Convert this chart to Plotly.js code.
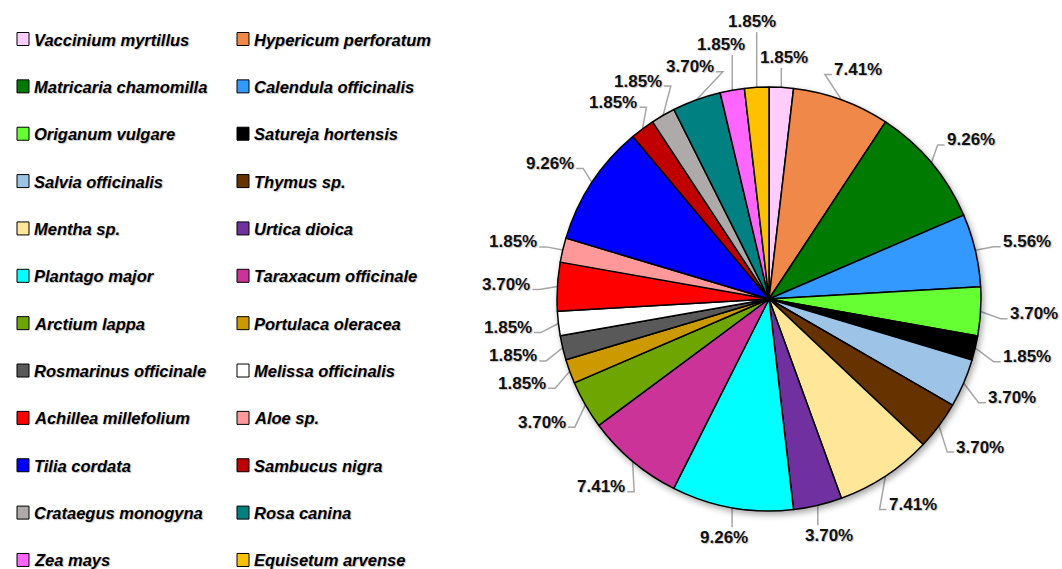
<!DOCTYPE html>
<html>
<head>
<meta charset="utf-8">
<script src="https://cdn.plot.ly/plotly-3.0.1.min.js"></script>
<style>
  html, body { margin: 0; padding: 0; background: #ffffff; }
  #chart { width: 1062px; height: 569px; }
  #chart .pielayer { filter: drop-shadow(2px 3px 3px rgba(0,0,0,0.35)); }
</style>
</head>
<body>
<div id="chart"></div>
<script>
// ---- data ----
const species = [
  "Vaccinium myrtillus", "Hypericum perforatum",
  "Matricaria chamomilla", "Calendula officinalis",
  "Origanum vulgare", "Satureja hortensis",
  "Salvia officinalis", "Thymus sp.",
  "Mentha sp.", "Urtica dioica",
  "Plantago major", "Taraxacum officinale",
  "Arctium lappa", "Portulaca oleracea",
  "Rosmarinus officinale", "Melissa officinalis",
  "Achillea millefolium", "Aloe sp.",
  "Tilia cordata", "Sambucus nigra",
  "Crataegus monogyna", "Rosa canina",
  "Zea mays", "Equisetum arvense"
];
const percents = [
  1.85, 7.41,
  9.26, 5.56,
  3.70, 1.85,
  3.70, 3.70,
  7.41, 3.70,
  9.26, 7.41,
  3.70, 1.85,
  1.85, 1.85,
  3.70, 1.85,
  9.26, 1.85,
  1.85, 3.70,
  1.85, 1.85
];
const colors = [
  "#FFCCFF", "#F0884A",
  "#007A00", "#3399FF",
  "#66FF33", "#000000",
  "#9DC3E6", "#663300",
  "#FFE699", "#7030A0",
  "#00FFFF", "#CC3399",
  "#6EA500", "#CC9900",
  "#595959", "#FFFFFF",
  "#FF0000", "#FF9999",
  "#0000FF", "#C00000",
  "#AEAAAA", "#008080",
  "#FF66FF", "#FFC000"
];

// ---- layout geometry ----
const W = 1062, H = 569;
const CX = 769, CY = 299, R = 212;
const px = x => x / W;
const py = y => 1 - y / H;

const fontFamily = "Liberation Sans, Arial, sans-serif";

// ---- percentage labels with leader lines ----
const annotations = [];
const shapes = [];
const total = percents.reduce((a, b) => a + b, 0);
const LW = 50, LH = 19;
const placed = [];
let cum = 0;

function makeBox(ux, uy, g, s) {
  const tx = -uy, ty = ux; // tangent (clockwise)
  const ax = CX + (R + g) * ux + s * tx, ay = CY + (R + g) * uy + s * ty;
  const bx = ax + ux * LW / 2, by = ay + uy * LH / 2;
  return { x0: bx - LW / 2, x1: bx + LW / 2, y0: by - LH / 2, y1: by + LH / 2, cx: bx, cy: by };
}
function overlaps(b) {
  if (b.y0 < 3 || b.y1 > H - 3 || b.x1 > W - 10) return true;
  return placed.some(p => b.x0 < p.x1 + 2 && b.x1 > p.x0 - 2 && b.y0 < p.y1 + 2 && b.y1 > p.y0 - 2);
}

percents.forEach((v, i) => {
  const mid = (cum + v / 2) / total * 2 * Math.PI;
  cum += v;
  const ux = Math.sin(mid), uy = -Math.cos(mid);
  const g0 = 20 + 8 * Math.max(ux, 0) + 6 * Math.max(-ux, 0);
  let best = null, bestCost = Infinity;
  for (let g = g0; g <= g0 + 90; g += 2) {
    for (let s = -40; s <= 40; s += 2) {
      const cost = (g - g0) + 0.8 * Math.abs(s);
      if (cost >= bestCost) continue;
      const b = makeBox(ux, uy, g, s);
      if (!overlaps(b)) { best = b; bestCost = cost; }
    }
  }
  if (!best) best = makeBox(ux, uy, g0, 0);
  const box = best;
  placed.push(box);

  annotations.push({
    xref: "paper", yref: "paper",
    x: px(box.cx), y: py(box.cy),
    xanchor: "center", yanchor: "middle",
    showarrow: false, borderpad: 0,
    text: v.toFixed(2) + "%",
    font: { family: fontFamily, size: 17, weight: "bold", color: "#111111",
            shadow: "1px 1px 1px rgba(0,0,0,0.25)" }
  });

  // leader line
  const ex = CX + R * ux, ey = CY + R * uy;
  let path;
  if (Math.abs(ux) < 0.3) {
    const kx = Math.min(Math.max(ex, box.x0 + 6), box.x1 - 6);
    const ky = uy < 0 ? box.y1 + 1 : box.y0 - 1;
    path = `M${px(ex)},${py(ey)} L${px(kx)},${py(ky)}`;
  } else {
    const side = ux > 0 ? box.x0 - 1 : box.x1 + 1;
    const ky = box.cy + 5;
    const elx = side - Math.sign(ux) * 7;
    path = `M${px(ex)},${py(ey)} L${px(elx)},${py(ky)} L${px(side)},${py(ky)}`;
  }
  shapes.push({
    type: "path", xref: "paper", yref: "paper", path: path,
    line: { color: "#A6A6A6", width: 1.5 }, layer: "below"
  });
});

// ---- two-column legend ----
species.forEach((name, i) => {
  const col = i % 2, row = Math.floor(i / 2);
  const sx = 17 + col * 220;
  const sy = 39 + row * 47.36;
  shapes.push({
    type: "rect", xref: "paper", yref: "paper",
    x0: px(sx), x1: px(sx + 12), y0: py(sy + 6.5), y1: py(sy - 6.5),
    fillcolor: colors[i], line: { color: "#000000", width: 1 }
  });
  annotations.push({
    xref: "paper", yref: "paper",
    x: px(sx + 16), y: py(sy + 0.5),
    xanchor: "left", yanchor: "middle",
    showarrow: false, borderpad: 0,
    text: name,
    font: { family: fontFamily, size: 16.5, weight: "bold", style: "italic", color: "#000000",
            shadow: "1px 1px 1px rgba(0,0,0,0.25)" }
  });
});

const trace = {
  type: "pie",
  labels: species,
  values: percents,
  sort: false,
  direction: "clockwise",
  rotation: 0,
  marker: { colors: colors, line: { color: "#000000", width: 1.5 } },
  textinfo: "none",
  showlegend: false,
  hovertemplate: "%{label}: %{percent}<extra></extra>",
  domain: { x: [px(CX - R), px(CX + R)], y: [py(CY + R), py(CY - R)] }
};

const layout = {
  width: W, height: H,
  margin: { l: 0, r: 0, t: 0, b: 0, pad: 0 },
  paper_bgcolor: "#ffffff",
  plot_bgcolor: "#ffffff",
  showlegend: false,
  annotations: annotations,
  shapes: shapes
};

Plotly.newPlot("chart", [trace], layout, { displayModeBar: false, staticPlot: true });
</script>
</body>
</html>
